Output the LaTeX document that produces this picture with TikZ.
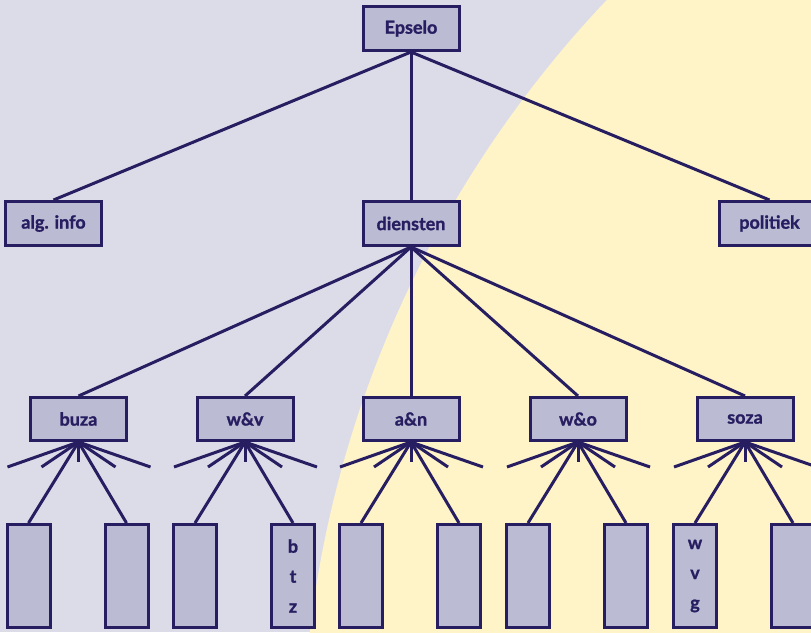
\documentclass[tikz,border=0pt]{standalone}
\usepackage{fontspec}
\setmainfont{Lato}[BoldFeatures={FakeBold=1.2}]
\definecolor{bgblue}{RGB}{220,220,233}
\definecolor{sand}{RGB}{255,243,200}
\definecolor{boxfill}{RGB}{187,187,212}
\definecolor{navy}{RGB}{38,30,96}
\begin{document}
\begin{tikzpicture}[x=1pt,y=-1pt,
  box/.style={draw=navy, fill=boxfill, line width=3pt, inner sep=0pt,
    minimum width=96pt, minimum height=44pt, text=navy,
    font=\fontsize{18}{20}\selectfont\bfseries},
  leaf/.style={box, minimum width=43pt, minimum height=103pt, align=center,
    font=\fontsize{18}{30}\selectfont\bfseries},
  link/.style={draw=navy, line width=3pt}]
\useasboundingbox (0,0) rectangle (811,632);
\clip (0,0) rectangle (811,632);
% background: lavender field with a large sand-coloured disc
\fill[bgblue] (0,0) rectangle (811,632);
\fill[sand] (1412,764) circle[radius=1110pt];

% top level
\node[box] (epselo) at (411,28.5) {Epselo};
% second level
\node[box] (alg) at (53.5,223.5) {alg. info};
\node[box] (diensten) at (411,223.5) {diensten};
\node[box, minimum width=100pt] (politiek) at (769.5,223.5) {politiek};
% third level
\node[box, minimum height=43pt] (buza) at (78.5,419) {buza};
\node[box, minimum height=43pt] (wv) at (245,419) {w\&v};
\node[box, minimum height=43pt] (an) at (411,419) {a\&n};
\node[box, minimum height=43pt] (wo) at (578,419) {w\&o};
\node[box, minimum height=43pt] (soza) at (745,419) {soza};
% leaves
\foreach \p/\x in {buza/78.5, wv/245, an/411, wo/578, soza/745}{
  \node[leaf] (\p-l) at (\x-50,576) {};
  \node[leaf] (\p-r) at (\x+48,576) {};
}
\node[leaf] at (wv-r) {b\\t\\z};
\node[leaf] at (soza-l) {w\\v\\g};

% connectors
\foreach \c in {alg, diensten, politiek}
  \draw[link] (epselo.south) -- (\c.north);
\foreach \c in {buza, wv, an, wo, soza}
  \draw[link] (diensten.south) -- (\c.north);
\foreach \p in {buza, wv, an, wo, soza}{
  \draw[link] (\p.south) -- (\p-l.north);
  \draw[link] (\p.south) -- (\p-r.north);
  \draw[link] (\p.south) -- ++(-71,25);
  \draw[link] (\p.south) -- ++(-37,25);
  \draw[link] (\p.south) -- ++(0,20);
  \draw[link] (\p.south) -- ++(37,25);
  \draw[link] (\p.south) -- ++(72,25);
}
\end{tikzpicture}
\end{document}
